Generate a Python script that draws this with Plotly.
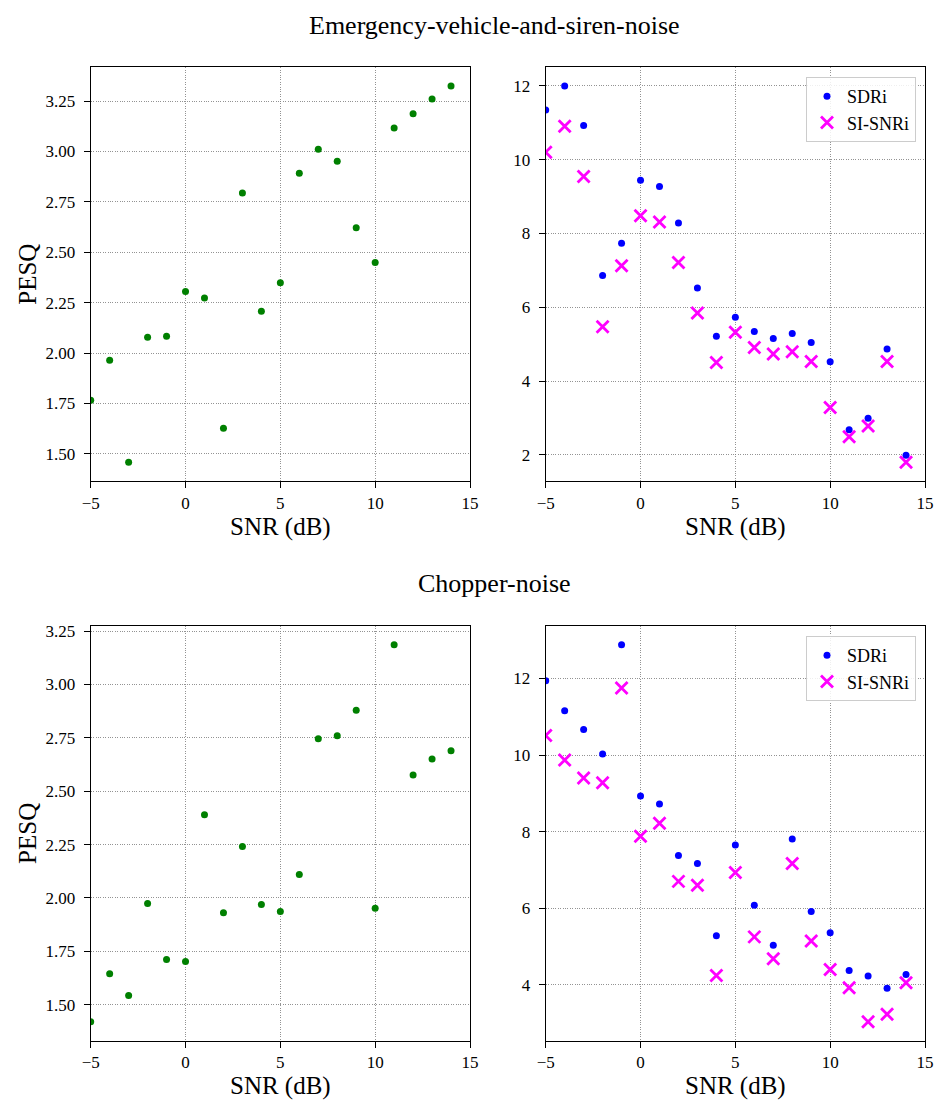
import plotly.graph_objects as go

# ---------------- data ----------------
snr_db = [-5, -4, -3, -2, -1, 0, 1, 2, 3, 4, 5, 6, 7, 8, 9, 10, 11, 12, 13, 14]
x_ticks = [-5, 0, 5, 10, 15]
panel_titles = ["Emergency-vehicle-and-siren-noise", "Chopper-noise"]
series_names = ["SDRi", "SI-SNRi"]

pesq_siren = [1.766, 1.964, 1.459, 2.078, 2.084, 2.306, 2.273, 1.627, 2.794, 2.208,
              2.349, 2.892, 3.011, 2.951, 2.621, 2.449, 3.116, 3.187, 3.260, 3.324]
sdri_siren = [11.34, 11.99, 10.92, 6.86, 7.735, 9.44, 9.27, 8.28, 6.52, 5.21,
              5.73, 5.34, 5.15, 5.29, 5.04, 4.52, 2.68, 2.99, 4.87, 1.99]
sisnri_siren = [10.20, 10.90, 9.54, 5.47, 7.12, 8.48, 8.31, 7.21, 5.84, 4.50,
                5.32, 4.91, 4.73, 4.79, 4.53, 3.28, 2.49, 2.78, 4.53, 1.80]

pesq_chopper = [1.419, 1.645, 1.542, 1.974, 1.711, 1.702, 2.390, 1.930, 2.241, 1.969,
                1.936, 2.110, 2.746, 2.760, 2.879, 1.952, 3.186, 2.576, 2.651, 2.690]
sdri_chopper = [11.94, 11.16, 10.67, 10.03, 12.88, 8.93, 8.72, 7.375, 7.17, 5.28,
                7.65, 6.075, 5.03, 7.81, 5.91, 5.36, 4.37, 4.23, 3.91, 4.27]
sisnri_chopper = [10.51, 9.87, 9.40, 9.28, 11.75, 7.88, 8.22, 6.70, 6.60, 4.24,
                  6.93, 5.25, 4.68, 7.17, 5.14, 4.40, 3.92, 3.03, 3.23, 4.05]

# ---------------- style ----------------
FONT = "Liberation Serif, Times New Roman, Times, serif"
W, H = 935, 1101
GREEN, BLUE, MAGENTA = "#008000", "#0000ff", "#ff00ff"

def auto_range(*arrs):
    lo = min(min(a) for a in arrs)
    hi = max(max(a) for a in arrs)
    pad = 0.05 * (hi - lo)
    return [lo - pad, hi + pad]

def px_x(v):
    return v / W

def px_y(v):
    return 1 - v / H

# panel geometry in page pixels (left, right) / (top, bottom)
cols_px = [(90.7, 470.0), (545.7, 925.0)]
rows_px = [(67.3, 481.0), (626.0, 1040.7)]

fig = go.Figure()

panels = [
    (0, 0, "x", "y", [pesq_siren], None),
    (0, 1, "x2", "y2", [sdri_siren, sisnri_siren], "legend"),
    (1, 0, "x3", "y3", [pesq_chopper], None),
    (1, 1, "x4", "y4", [sdri_chopper, sisnri_chopper], "legend2"),
]

for (r, c, xa, ya, series, leg) in panels:
    if c == 0:
        fig.add_trace(go.Scatter(
            x=snr_db, y=series[0], mode="markers", xaxis=xa, yaxis=ya,
            showlegend=False,
            marker=dict(color=GREEN, size=7, line=dict(width=0)),
        ))
    else:
        fig.add_trace(go.Scatter(
            x=snr_db, y=series[0], mode="markers", xaxis=xa, yaxis=ya,
            name=series_names[0], legend=leg,
            marker=dict(color=BLUE, size=7, line=dict(width=0)),
        ))
        fig.add_trace(go.Scatter(
            x=snr_db, y=series[1], mode="markers", xaxis=xa, yaxis=ya,
            name=series_names[1], legend=leg,
            marker=dict(symbol="x-thin", color=MAGENTA, size=12,
                        line=dict(width=2.8, color=MAGENTA)),
        ))

axis_common = dict(
    automargin=False,
    showline=True, mirror=True, linecolor="black", linewidth=1.3,
    ticks="outside", ticklen=6, tickwidth=1.1, tickcolor="black",
    showgrid=True, gridcolor="rgba(128,128,128,0.85)", gridwidth=0.8,
    griddash="1px,1.4px",
    zeroline=False, ticklabeloverflow="allow",
    tickfont=dict(family=FONT, size=17, color="black"),
)

layout = dict(
    width=W, height=H,
    margin=dict(l=0, r=0, t=0, b=0, autoexpand=False),
    paper_bgcolor="white", plot_bgcolor="white",
    font=dict(family=FONT, color="black"),
)

for (r, c, xa, ya, series, leg) in panels:
    xl, xr = cols_px[c]
    yt, yb = rows_px[r]
    xkey = "xaxis" + xa[1:]
    ykey = "yaxis" + ya[1:]
    layout[xkey] = dict(
        axis_common,
        domain=[px_x(xl), px_x(xr)], anchor=ya,
        range=[-5, 15], tickvals=x_ticks,
        title=dict(text="SNR (dB)", font=dict(family=FONT, size=25), standoff=3),
    )
    yr = auto_range(*series)
    if c == 0:
        ydict = dict(dtick=0.25, tick0=0, tickformat=".2f")
    else:
        ydict = dict(dtick=2, tick0=0, tickformat="d")
    layout[ykey] = dict(
        axis_common,
        domain=[px_y(yb), px_y(yt)], anchor=xa,
        range=yr, ticklabelstandoff=5, **ydict,
    )
    if c == 0:
        layout[ykey]["title"] = dict(text="PESQ", font=dict(family=FONT, size=25), standoff=1)

leg_common = dict(
    xanchor="right", yanchor="top",
    bgcolor="rgba(255,255,255,0.85)", bordercolor="#cccccc", borderwidth=1,
    font=dict(family=FONT, size=18, color="black"),
    itemsizing="trace", tracegroupgap=0,
)
layout["legend"] = dict(leg_common, x=px_x(916), y=px_y(77))
layout["legend2"] = dict(leg_common, x=px_x(916), y=px_y(636))

layout["annotations"] = [
    dict(text=panel_titles[0], x=px_x(494.5), y=px_y(25), xref="paper", yref="paper",
         showarrow=False, xanchor="center", yanchor="middle",
         font=dict(family=FONT, size=26, color="black")),
    dict(text=panel_titles[1], x=px_x(494.5), y=px_y(583), xref="paper", yref="paper",
         showarrow=False, xanchor="center", yanchor="middle",
         font=dict(family=FONT, size=26, color="black")),
]

fig.update_layout(**layout)
# the figure fills the whole window: drop the page's default body margin
fig.write_html(
    "out.html",
    config={"displayModeBar": False},
    post_script="document.body.style.margin='0';document.body.style.overflow='hidden';",
)
